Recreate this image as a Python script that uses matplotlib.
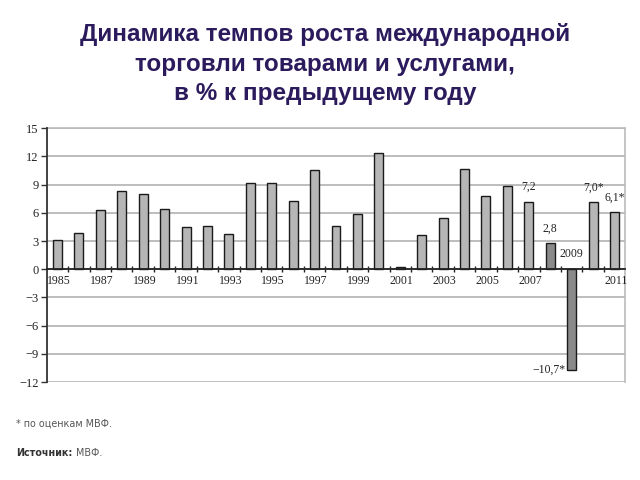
import numpy as np
import matplotlib
matplotlib.use('Agg')
import matplotlib.pyplot as plt
import matplotlib.transforms as mtransforms
from matplotlib.ticker import FixedLocator, FuncFormatter

#%% data
years = list(range(1985, 2012))
growth = [3.1, 3.9, 6.3, 8.3, 8.0, 6.4, 4.5, 4.6, 3.7, 9.2, 9.2, 7.3, 10.5,
          4.6, 5.9, 12.4, 0.2, 3.6, 5.5, 10.7, 7.8, 8.9, 7.2, 2.8, -10.7, 7.1, 6.1]
dark_years = [2008, 2009]
value_labels = {2007: '7,2', 2008: '2,8', 2009: '\u221210,7*', 2010: '7,0*', 2011: '6,1*'}
yticks = [15, 12, 9, 6, 3, 0, -3, -6, -9, -12]

title = 'Динамика темпов роста международной\nторговли товарами и услугами,\nв % к предыдущему году'

serif = 'Liberation Serif'

#%% figure
fig = plt.figure(figsize=(6.4, 4.8), dpi=100)
ax = fig.add_axes([0.073, 0.204, 0.904, 0.529])

colors = ['#8a8a8a' if y in dark_years else '#b6b6b6' for y in years]
ax.bar(years, growth, width=0.42, color=colors, edgecolor='#1a1a1a', linewidth=1.0, zorder=3)

ax.set_xlim(1984.5, 2011.5)
ax.set_ylim(-12, 15)

# grid
ax.set_yticks(yticks)
ax.yaxis.set_major_formatter(FuncFormatter(lambda v, p: '{:d}'.format(int(v)).replace('-', '\u2212')))
ax.grid(True, axis='y', color='#b8b8b8', linewidth=1.3, zorder=0)

# spines
for s in ['top', 'right']:
    ax.spines[s].set_color('#c0c0c0')
    ax.spines[s].set_linewidth(1.3)
    ax.spines[s].set_zorder(0.5)
ax.spines['left'].set_color('#333333')
ax.spines['left'].set_linewidth(1.3)
ax.spines['bottom'].set_position(('data', 0))
ax.spines['bottom'].set_color('#222222')
ax.spines['bottom'].set_linewidth(1.3)
ax.spines['bottom'].set_zorder(4)

# x labels on odd years (2009 put above axis)
label_years = [y for y in years if y % 2 == 1 and y != 2009]
ax.xaxis.set_major_locator(FixedLocator(label_years))
ax.xaxis.set_major_formatter(FuncFormatter(lambda v, p: str(int(v))))
ax.xaxis.set_minor_locator(FixedLocator(np.arange(1985.5, 2011, 1.0)))
ax.tick_params(axis='x', which='major', length=0, pad=4, labelsize=8.5)
ax.tick_params(axis='x', which='minor', length=5, direction='inout', width=1, color='#222222')
ax.tick_params(axis='y', which='major', length=4, direction='out', width=1, labelsize=9, pad=2, color='#333333')
shift = mtransforms.ScaledTranslation(1.5 / 100, 0, fig.dpi_scale_trans)
for lab in ax.get_xticklabels():
    lab.set_transform(lab.get_transform() + shift)
for lab in ax.get_xticklabels() + ax.get_yticklabels():
    lab.set_family(serif)
    lab.set_color('#222222')

ax.text(2009, 1.0, '2009', ha='center', va='bottom', fontsize=8.5, family=serif, color='#222222', zorder=5)

# value labels
for y, v in zip(years, growth):
    if y in value_labels:
        if v < 0:
            ax.text(y - 0.3, v, value_labels[y], ha='right', va='center', fontsize=8.5,
                    family=serif, color='#222222')
        else:
            ax.text(y, v + 0.9, value_labels[y], ha='center', va='bottom', fontsize=8.5,
                    family=serif, color='#222222')

#%% title and notes
fig.text(0.508, 0.952, title, ha='center', va='top', fontsize=17.5, fontweight='bold',
         color='#2b1a5c', family='Liberation Sans', linespacing=1.37)
fig.text(0.025, 0.118, '* по оценкам МВФ.', ha='left', va='center', fontsize=6.9,
         color='#555555', family='DejaVu Sans')
fig.text(0.025, 0.056, 'Источник:', ha='left', va='center', fontsize=6.9,
         color='#333333', family='DejaVu Sans', fontweight='bold')
fig.text(0.118, 0.056, 'МВФ.', ha='left', va='center', fontsize=6.9,
         color='#555555', family='DejaVu Sans')

fig.savefig('out.png', dpi=100)
